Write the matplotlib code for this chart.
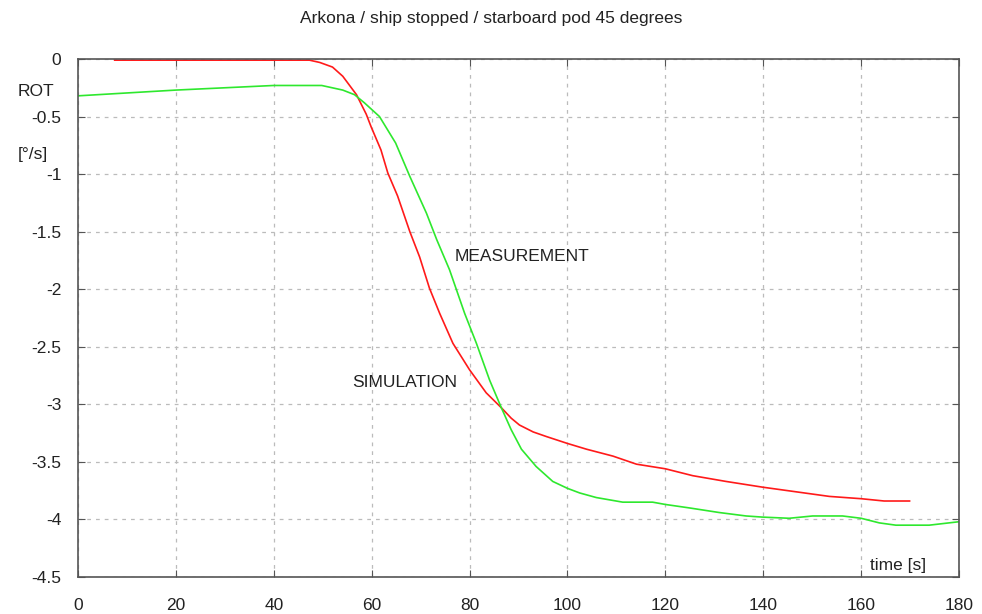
import matplotlib.pyplot as plt

plt.rcParams['font.family'] = ['Liberation Sans', 'DejaVu Sans']

# simulation (red)
sim_t = [7.5, 20, 30, 40, 47.3, 49.4, 52, 54.1, 56.9, 58.9, 59.9, 61.9, 63.3, 65.3, 67.8,
         69.8, 71.8, 73.9, 76.6, 80, 83.4, 86.5, 88.5, 90.2, 93, 95.7, 100, 103.9, 109.3,
         114.1, 120, 125.6, 132.4, 139.9, 146.7, 153.5, 160, 164.7, 169.9]
sim_rot = [-0.01, -0.01, -0.01, -0.01, -0.01, -0.03, -0.07, -0.15, -0.31, -0.48, -0.59,
           -0.79, -0.99, -1.19, -1.50, -1.72, -1.99, -2.21, -2.47, -2.70, -2.90, -3.03,
           -3.12, -3.18, -3.24, -3.28, -3.34, -3.39, -3.45, -3.52, -3.56, -3.62, -3.67,
           -3.72, -3.76, -3.80, -3.82, -3.84, -3.84]

# measurement (green)
meas_t = [0, 20, 40, 49.8, 54.1, 56.5, 58.5, 61.6, 64.9, 67.8, 71.2, 73.3, 75.9, 79, 81.4,
          84.1, 86.5, 88.5, 90.6, 93.6, 97, 100, 102.5, 105.9, 111.3, 117.4, 120, 124.9,
          131, 136.5, 139.9, 145.3, 150.1, 156.2, 160, 163.7, 167.1, 173.9, 180]
meas_rot = [-0.32, -0.27, -0.23, -0.23, -0.27, -0.31, -0.38, -0.50, -0.73, -1.02, -1.34,
            -1.57, -1.83, -2.21, -2.47, -2.79, -3.03, -3.22, -3.39, -3.54, -3.67, -3.73,
            -3.77, -3.81, -3.85, -3.85, -3.87, -3.90, -3.94, -3.97, -3.98, -3.99, -3.97,
            -3.97, -3.99, -4.03, -4.05, -4.05, -4.02]

xticks = list(range(0, 181, 20))
yticks = [0, -0.5, -1, -1.5, -2, -2.5, -3, -3.5, -4, -4.5]
ytick_labels = ['0', '-0.5', '-1', '-1.5', '-2', '-2.5', '-3', '-3.5', '-4', '-4.5']

fig = plt.figure(figsize=(9.82, 6.14), dpi=100)
ax = fig.add_axes([0.0794, 0.0603, 0.8972, 0.8436])

ax.plot(sim_t, sim_rot, color='#ff1a1a', linewidth=1.2)
ax.plot(meas_t, meas_rot, color='#2ee82e', linewidth=1.2)

ax.set_xlim(0, 180)
ax.set_ylim(-4.5, 0)
ax.set_xticks(xticks)
ax.set_yticks(yticks)
ax.set_yticklabels(ytick_labels)
ax.tick_params(direction='in', top=True, right=True, length=5, color='#555555',
               labelsize=12.5, labelcolor='#222222')
ax.tick_params(axis='x', pad=15)
ax.tick_params(axis='y', pad=12)
ax.grid(True, linestyle=(0, (3, 4)), color='#bbbbbb', linewidth=0.9)
for s in ax.spines.values():
    s.set_color('#555555')
    s.set_linewidth(1.2)

fig.text(0.5, 1 - 18 / 614, 'Arkona / ship stopped / starboard pod 45 degrees',
         ha='center', va='center', fontsize=12.5, color='#222222')
fig.text(0.018, 1 - 92 / 614, 'ROT', ha='left', va='center', fontsize=12.5, color='#222222')
fig.text(0.018, 1 - 155 / 614, '[°/s]', ha='left', va='center', fontsize=12.5, color='#222222')

ax.text(77, -1.72, 'MEASUREMENT', ha='left', va='center', fontsize=12.5, color='#222222')
ax.text(56, -2.81, 'SIMULATION', ha='left', va='center', fontsize=12.5, color='#222222')
ax.text(161.8, -4.40, 'time [s]', ha='left', va='center', fontsize=12.5, color='#222222')

plt.savefig('out.png')
